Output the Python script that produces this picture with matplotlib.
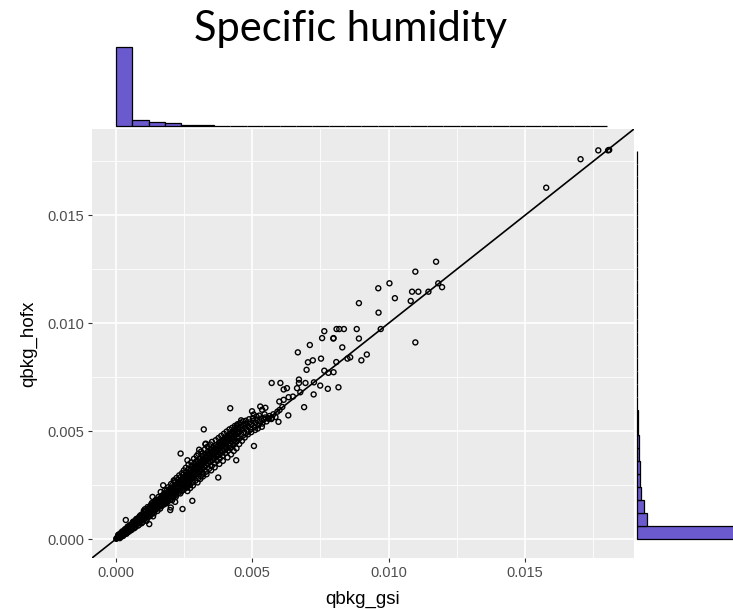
import matplotlib
matplotlib.use("Agg")
import matplotlib.pyplot as plt
import numpy as np

plt.rcParams['font.family'] = ['Liberation Sans', 'DejaVu Sans']

title = "Specific humidity"
x_label = "qbkg_gsi"
y_label = "qbkg_hofx"
tick_values = [0.000, 0.005, 0.010, 0.015]
tick_labels = ["0.000", "0.005", "0.010", "0.015"]
minor_values = [0.0025, 0.0075, 0.0125, 0.0175]

# scatter points: (qbkg_gsi, qbkg_hofx)
points = [
    (0.00001, 0.00001), (0.00003, 0.00004), (0.00005, 0.00006), (0.00007, 0.00006),
    (0.00009, 0.00011), (0.00011, 0.00010), (0.00013, 0.00015), (0.00015, 0.00014),
    (0.00017, 0.00020), (0.00019, 0.00017), (0.00021, 0.00024), (0.00023, 0.00021),
    (0.00025, 0.00029), (0.00027, 0.00025), (0.00029, 0.00033), (0.00031, 0.00028),
    (0.00033, 0.00038), (0.00035, 0.00032), (0.00037, 0.00042), (0.00039, 0.00036),
    (0.00041, 0.00047), (0.00043, 0.00040), (0.00045, 0.00052), (0.00047, 0.00044),
    (0.00036, 0.00088), (0.00050, 0.00058), (0.00055, 0.00052), (0.00058, 0.00068),
    (0.00060, 0.00063), (0.00063, 0.00075), (0.00065, 0.00060), (0.00068, 0.00072),
    (0.00070, 0.00082), (0.00073, 0.00068), (0.00075, 0.00088), (0.00078, 0.00080),
    (0.00080, 0.00094), (0.00083, 0.00077), (0.00085, 0.00100), (0.00088, 0.00088),
    (0.00090, 0.00105), (0.00093, 0.00085), (0.00095, 0.00112), (0.00098, 0.00097),
    (0.00100, 0.00118), (0.00103, 0.00092), (0.00105, 0.00125), (0.00108, 0.00108),
    (0.00110, 0.00130), (0.00113, 0.00101), (0.00115, 0.00120), (0.00118, 0.00140),
    (0.00120, 0.00112), (0.00122, 0.00069), (0.00123, 0.00133), (0.00125, 0.00150),
    (0.00128, 0.00119), (0.00130, 0.00138), (0.00133, 0.00158), (0.00134, 0.00195),
    (0.00135, 0.00127), (0.00138, 0.00148), (0.00140, 0.00165), (0.00143, 0.00135),
    (0.00145, 0.00158), (0.00148, 0.00175), (0.00150, 0.00142), (0.00153, 0.00166),
    (0.00155, 0.00182), (0.00158, 0.00150), (0.00160, 0.00172), (0.00163, 0.00190),
    (0.00164, 0.00218), (0.00165, 0.00158), (0.00168, 0.00180), (0.00170, 0.00198),
    (0.00173, 0.00249), (0.00173, 0.00165), (0.00175, 0.00188), (0.00178, 0.00205),
    (0.00180, 0.00172), (0.00183, 0.00196), (0.00185, 0.00214), (0.00188, 0.00180),
    (0.00190, 0.00204), (0.00193, 0.00222), (0.00195, 0.00188), (0.00198, 0.00212),
    (0.00199, 0.00134), (0.00200, 0.00230), (0.00201, 0.00146), (0.00203, 0.00196),
    (0.00205, 0.00220), (0.00208, 0.00240), (0.00210, 0.00203), (0.00212, 0.00272),
    (0.00213, 0.00228), (0.00215, 0.00248), (0.00217, 0.00172), (0.00218, 0.00210),
    (0.00220, 0.00236), (0.00223, 0.00256), (0.00225, 0.00220), (0.00228, 0.00244),
    (0.00230, 0.00265), (0.00233, 0.00228), (0.00235, 0.00252), (0.00237, 0.00396),
    (0.00238, 0.00274), (0.00240, 0.00236), (0.00243, 0.00260), (0.00244, 0.00139),
    (0.00245, 0.00283), (0.00248, 0.00244), (0.00250, 0.00268), (0.00253, 0.00290),
    (0.00255, 0.00252), (0.00258, 0.00276), (0.00260, 0.00300), (0.00262, 0.00365),
    (0.00262, 0.00222), (0.00263, 0.00262), (0.00265, 0.00285), (0.00268, 0.00308),
    (0.00270, 0.00270), (0.00273, 0.00294), (0.00275, 0.00318), (0.00278, 0.00280),
    (0.00280, 0.00177), (0.00280, 0.00302), (0.00283, 0.00326), (0.00285, 0.00288),
    (0.00288, 0.00312), (0.00290, 0.00335), (0.00292, 0.00357), (0.00293, 0.00298),
    (0.00295, 0.00320), (0.00298, 0.00344), (0.00300, 0.00305), (0.00303, 0.00330),
    (0.00305, 0.00352), (0.00305, 0.00414), (0.00308, 0.00315), (0.00310, 0.00338),
    (0.00313, 0.00362), (0.00315, 0.00322), (0.00317, 0.00396), (0.00318, 0.00348),
    (0.00320, 0.00370), (0.00322, 0.00508), (0.00323, 0.00332), (0.00325, 0.00356),
    (0.00328, 0.00380), (0.00328, 0.00439), (0.00329, 0.00442), (0.00330, 0.00340),
    (0.00333, 0.00365), (0.00335, 0.00388), (0.00338, 0.00350), (0.00340, 0.00373),
    (0.00343, 0.00396), (0.00345, 0.00358), (0.00348, 0.00382), (0.00350, 0.00405),
    (0.00353, 0.00366), (0.00355, 0.00390), (0.00358, 0.00412), (0.00360, 0.00375),
    (0.00363, 0.00398), (0.00365, 0.00420), (0.00368, 0.00383), (0.00370, 0.00406),
    (0.00373, 0.00430), (0.00375, 0.00285), (0.00375, 0.00392), (0.00378, 0.00415),
    (0.00380, 0.00438), (0.00383, 0.00400), (0.00385, 0.00424), (0.00388, 0.00446),
    (0.00390, 0.00409), (0.00393, 0.00432), (0.00395, 0.00455), (0.00398, 0.00418),
    (0.00400, 0.00440), (0.00403, 0.00462), (0.00405, 0.00426), (0.00408, 0.00449),
    (0.00410, 0.00470), (0.00413, 0.00435), (0.00415, 0.00457), (0.00418, 0.00478),
    (0.00419, 0.00606), (0.00420, 0.00444), (0.00423, 0.00465), (0.00425, 0.00486),
    (0.00428, 0.00452), (0.00430, 0.00473), (0.00433, 0.00494), (0.00435, 0.00460),
    (0.00438, 0.00482), (0.00440, 0.00502), (0.00441, 0.00365), (0.00443, 0.00468),
    (0.00444, 0.00526), (0.00445, 0.00490), (0.00448, 0.00510), (0.00450, 0.00476),
    (0.00453, 0.00498), (0.00455, 0.00518), (0.00459, 0.00550), (0.00460, 0.00485),
    (0.00463, 0.00506), (0.00467, 0.00525), (0.00470, 0.00493), (0.00474, 0.00534),
    (0.00474, 0.00514), (0.00478, 0.00532), (0.00482, 0.00502), (0.00486, 0.00522),
    (0.00490, 0.00540), (0.00494, 0.00510), (0.00498, 0.00530), (0.00499, 0.00592),
    (0.00503, 0.00546), (0.00505, 0.00577), (0.00506, 0.00431), (0.00508, 0.00518),
    (0.00512, 0.00538), (0.00517, 0.00552), (0.00522, 0.00527), (0.00527, 0.00545),
    (0.00529, 0.00614), (0.00532, 0.00558), (0.00536, 0.00599), (0.00537, 0.00535),
    (0.00542, 0.00553), (0.00547, 0.00563), (0.00548, 0.00608), (0.00552, 0.00545),
    (0.00558, 0.00560), (0.00560, 0.00557), (0.00563, 0.00570), (0.00570, 0.00556),
    (0.00571, 0.00723), (0.00572, 0.00562), (0.00577, 0.00578), (0.00585, 0.00565),
    (0.00592, 0.00590), (0.00596, 0.00543), (0.00599, 0.00637), (0.00600, 0.00598),
    (0.00603, 0.00723), (0.00610, 0.00612), (0.00615, 0.00645), (0.00615, 0.00693),
    (0.00627, 0.00699), (0.00632, 0.00573), (0.00633, 0.00657), (0.00649, 0.00660),
    (0.00664, 0.00699), (0.00667, 0.00865), (0.00671, 0.00739), (0.00671, 0.00723),
    (0.00676, 0.00680), (0.00690, 0.00611), (0.00695, 0.00723), (0.00699, 0.00784),
    (0.00704, 0.00819), (0.00711, 0.00899), (0.00722, 0.00828), (0.00725, 0.00670),
    (0.00726, 0.00726), (0.00749, 0.00711), (0.00752, 0.00836), (0.00756, 0.00931),
    (0.00764, 0.00963), (0.00764, 0.00780), (0.00777, 0.00696), (0.00779, 0.00770),
    (0.00797, 0.00929), (0.00798, 0.00773), (0.00798, 0.00931), (0.00808, 0.00820),
    (0.00809, 0.00973), (0.00816, 0.00703), (0.00819, 0.00973), (0.00830, 0.00888),
    (0.00836, 0.00973), (0.00849, 0.00836), (0.00859, 0.00842), (0.00883, 0.00973),
    (0.00891, 0.01093), (0.00891, 0.00929), (0.00900, 0.00828), (0.00920, 0.00855),
    (0.00962, 0.01162), (0.00963, 0.01049), (0.00971, 0.00973), (0.01003, 0.01185),
    (0.01023, 0.01116), (0.01081, 0.01103), (0.01086, 0.01146), (0.01098, 0.01239),
    (0.01098, 0.00911), (0.01109, 0.01146), (0.01146, 0.01146), (0.01174, 0.01285),
    (0.01182, 0.01185), (0.01196, 0.01167), (0.01578, 0.01628), (0.01704, 0.01760),
    (0.01769, 0.01801), (0.01805, 0.01801), (0.01809, 0.01803),
    # dense band, second pass
    (0.00052, 0.00049), (0.00057, 0.00063), (0.00061, 0.00056), (0.00066, 0.00071),
    (0.00069, 0.00064), (0.00072, 0.00079), (0.00076, 0.00071), (0.00079, 0.00086),
    (0.00082, 0.00074), (0.00086, 0.00092), (0.00089, 0.00081), (0.00092, 0.00099),
    (0.00096, 0.00088), (0.00099, 0.00108), (0.00101, 0.00095), (0.00104, 0.00114),
    (0.00107, 0.00098), (0.00111, 0.00119), (0.00114, 0.00107), (0.00117, 0.00127),
    (0.00121, 0.00116), (0.00124, 0.00141), (0.00127, 0.00113), (0.00131, 0.00146),
    (0.00134, 0.00122), (0.00137, 0.00154), (0.00141, 0.00132), (0.00144, 0.00160),
    (0.00147, 0.00137), (0.00151, 0.00171), (0.00154, 0.00146), (0.00157, 0.00178),
    (0.00161, 0.00160), (0.00164, 0.00185), (0.00167, 0.00152), (0.00171, 0.00192),
    (0.00174, 0.00178), (0.00177, 0.00212), (0.00181, 0.00166), (0.00184, 0.00204),
    (0.00187, 0.00226), (0.00191, 0.00175), (0.00194, 0.00214), (0.00197, 0.00232),
    (0.00201, 0.00186), (0.00204, 0.00226), (0.00207, 0.00250), (0.00211, 0.00194),
    (0.00214, 0.00238), (0.00217, 0.00262), (0.00221, 0.00205), (0.00224, 0.00245),
    (0.00227, 0.00274), (0.00231, 0.00215), (0.00234, 0.00258), (0.00237, 0.00287),
    (0.00241, 0.00222), (0.00244, 0.00270), (0.00247, 0.00298), (0.00251, 0.00232),
    (0.00254, 0.00282), (0.00257, 0.00310), (0.00261, 0.00242), (0.00264, 0.00296),
    (0.00267, 0.00325), (0.00271, 0.00250), (0.00274, 0.00306), (0.00277, 0.00338),
    (0.00281, 0.00262), (0.00284, 0.00318), (0.00287, 0.00350), (0.00291, 0.00270),
    (0.00294, 0.00330), (0.00297, 0.00362), (0.00301, 0.00280), (0.00304, 0.00342),
    (0.00307, 0.00372), (0.00311, 0.00290), (0.00314, 0.00355), (0.00317, 0.00385),
    (0.00321, 0.00302), (0.00324, 0.00366), (0.00327, 0.00395), (0.00331, 0.00312),
    (0.00334, 0.00378), (0.00337, 0.00405), (0.00341, 0.00325), (0.00344, 0.00390),
    (0.00347, 0.00415), (0.00351, 0.00338), (0.00354, 0.00398), (0.00357, 0.00425),
    (0.00361, 0.00350), (0.00364, 0.00410), (0.00367, 0.00435), (0.00371, 0.00362),
    (0.00374, 0.00420), (0.00377, 0.00445), (0.00381, 0.00374), (0.00384, 0.00432),
    (0.00387, 0.00455), (0.00391, 0.00386), (0.00394, 0.00442), (0.00397, 0.00465),
    (0.00401, 0.00398), (0.00404, 0.00452), (0.00407, 0.00476), (0.00411, 0.00410),
    (0.00414, 0.00462), (0.00417, 0.00486), (0.00421, 0.00422), (0.00424, 0.00472),
    (0.00427, 0.00497), (0.00431, 0.00436), (0.00434, 0.00483), (0.00437, 0.00507),
    (0.00441, 0.00450), (0.00444, 0.00494), (0.00447, 0.00516),
    # dense band, third pass
    (0.00012, 0.00022), (0.00018, 0.00010), (0.00024, 0.00036), (0.00030, 0.00021),
    (0.00034, 0.00046), (0.00040, 0.00029), (0.00044, 0.00058), (0.00049, 0.00037),
    (0.00054, 0.00066), (0.00059, 0.00046), (0.00064, 0.00081), (0.00071, 0.00055),
    (0.00077, 0.00094), (0.00084, 0.00066), (0.00091, 0.00111), (0.00097, 0.00078),
    (0.00102, 0.00131), (0.00109, 0.00089), (0.00116, 0.00148), (0.00119, 0.00102),
    (0.00126, 0.00109), (0.00132, 0.00167), (0.00139, 0.00119), (0.00146, 0.00181),
    (0.00152, 0.00130), (0.00156, 0.00195), (0.00162, 0.00141), (0.00169, 0.00201),
    (0.00176, 0.00160), (0.00179, 0.00225), (0.00186, 0.00166), (0.00192, 0.00240),
    (0.00196, 0.00201), (0.00202, 0.00255), (0.00206, 0.00180), (0.00209, 0.00231),
    (0.00216, 0.00270), (0.00219, 0.00195), (0.00222, 0.00283), (0.00226, 0.00233),
    (0.00232, 0.00295), (0.00236, 0.00211), (0.00239, 0.00262), (0.00242, 0.00305),
    (0.00246, 0.00228), (0.00249, 0.00318), (0.00252, 0.00258), (0.00256, 0.00330),
    (0.00259, 0.00238), (0.00266, 0.00345), (0.00269, 0.00288), (0.00272, 0.00236),
    (0.00276, 0.00355), (0.00279, 0.00310), (0.00282, 0.00248), (0.00286, 0.00372),
    (0.00289, 0.00300), (0.00296, 0.00385), (0.00299, 0.00262), (0.00302, 0.00395),
    (0.00306, 0.00325), (0.00309, 0.00278), (0.00312, 0.00405), (0.00316, 0.00340),
    (0.00319, 0.00290), (0.00326, 0.00415), (0.00332, 0.00300), (0.00336, 0.00428),
    (0.00339, 0.00362), (0.00346, 0.00438), (0.00349, 0.00318), (0.00352, 0.00450),
    (0.00356, 0.00378), (0.00362, 0.00332), (0.00366, 0.00458), (0.00369, 0.00395),
    (0.00376, 0.00468), (0.00379, 0.00348), (0.00382, 0.00410), (0.00386, 0.00478),
    (0.00392, 0.00362), (0.00396, 0.00488), (0.00399, 0.00428), (0.00406, 0.00498),
    (0.00409, 0.00378), (0.00416, 0.00508), (0.00422, 0.00392), (0.00426, 0.00515),
    (0.00432, 0.00408), (0.00436, 0.00524), (0.00442, 0.00420), (0.00446, 0.00532),
    (0.00452, 0.00440), (0.00456, 0.00538), (0.00462, 0.00455), (0.00466, 0.00545),
    (0.00472, 0.00470), (0.00476, 0.00548), (0.00484, 0.00485), (0.00488, 0.00555),
    (0.00496, 0.00495), (0.00502, 0.00560), (0.00510, 0.00505), (0.00515, 0.00568),
    (0.00520, 0.00512), (0.00525, 0.00572), (0.00535, 0.00520), (0.00545, 0.00578),
    # near-origin thickening
    (0.00008, 0.00019), (0.00014, 0.00004), (0.00020, 0.00031), (0.00026, 0.00014),
    (0.00032, 0.00043), (0.00038, 0.00024), (0.00042, 0.00055), (0.00046, 0.00033),
    (0.00051, 0.00064), (0.00056, 0.00041), (0.00062, 0.00078), (0.00067, 0.00050),
    (0.00074, 0.00092), (0.00081, 0.00062), (0.00087, 0.00106), (0.00094, 0.00073),
    (0.00106, 0.00138), (0.00112, 0.00084), (0.00129, 0.00160), (0.00136, 0.00105),
]
gsi = [p[0] for p in points]
hofx = [p[1] for p in points]

# marginal histogram counts (30 bins from 0 to 0.018)
bin_edges = np.linspace(0.0, 0.018, 31)
gsi_counts = [1000, 82, 45, 35, 18, 9, 6, 4, 3, 2, 2, 1, 1, 1, 1, 1, 1, 1, 1, 0,
              0, 0, 0, 0, 0, 0, 1, 0, 1, 3]
hofx_counts = [1000, 100, 68, 40, 34, 30, 24, 17, 11, 6, 4, 3, 2, 2, 1, 1, 1, 1, 1, 1,
               0, 0, 0, 0, 0, 0, 1, 0, 1, 3]

W, H = 733, 610
fig = plt.figure(figsize=(W / 100, H / 100), dpi=100)

def frac(x0, y0, x1, y1):
    return [x0 / W, 1 - y1 / H, (x1 - x0) / W, (y1 - y0) / H]

lims = (-0.00088, 0.0190)

ax = fig.add_axes(frac(92, 129, 634, 558))
ax.set_facecolor('#EBEBEB')
for s in ax.spines.values():
    s.set_visible(False)
ax.set_xlim(lims)
ax.set_ylim(lims)
ax.set_xticks(tick_values)
ax.set_xticklabels(tick_labels)
ax.set_yticks(tick_values)
ax.set_yticklabels(tick_labels)
ax.set_xticks(minor_values, minor=True)
ax.set_yticks(minor_values, minor=True)
ax.grid(which='major', color='white', linewidth=1.2)
ax.grid(which='minor', color='white', linewidth=0.6)
ax.set_axisbelow(True)
ax.tick_params(which='major', length=3.0, width=0.8, color='#333333',
               labelsize=10.5, labelcolor='#4D4D4D', pad=2.5)
ax.tick_params(which='minor', length=0)
ax.set_xlabel(x_label, fontsize=13.5, labelpad=8)
ax.set_ylabel(y_label, fontsize=13.5, labelpad=7)

ax.scatter(gsi, hofx, s=13, facecolors='none', edgecolors='black', linewidths=1.0, zorder=2)
ax.axline((0, 0), slope=1, color='black', linewidth=1.2, zorder=3)

# top marginal histogram
axt = fig.add_axes(frac(92, 47, 634, 126))
axt.bar(bin_edges[:-1], gsi_counts, width=np.diff(bin_edges), align='edge',
        color='#6A5ACD', edgecolor='black', linewidth=0.9, clip_on=False)
axt.set_xlim(lims)
axt.set_ylim(0, max(gsi_counts))
axt.axis('off')

# right marginal histogram
axr = fig.add_axes(frac(637, 129, 737, 558))
axr.barh(bin_edges[:-1], hofx_counts, height=np.diff(bin_edges), align='edge',
         color='#6A5ACD', edgecolor='black', linewidth=0.9, clip_on=False)
axr.set_ylim(lims)
axr.set_xlim(0, max(hofx_counts))
axr.axis('off')

fig.text(351 / W, 1 - 29 / H, title, fontsize=30, family=['Lato', 'DejaVu Sans'],
         ha='center', va='center', color='black')

fig.savefig('out.png', dpi=100)
